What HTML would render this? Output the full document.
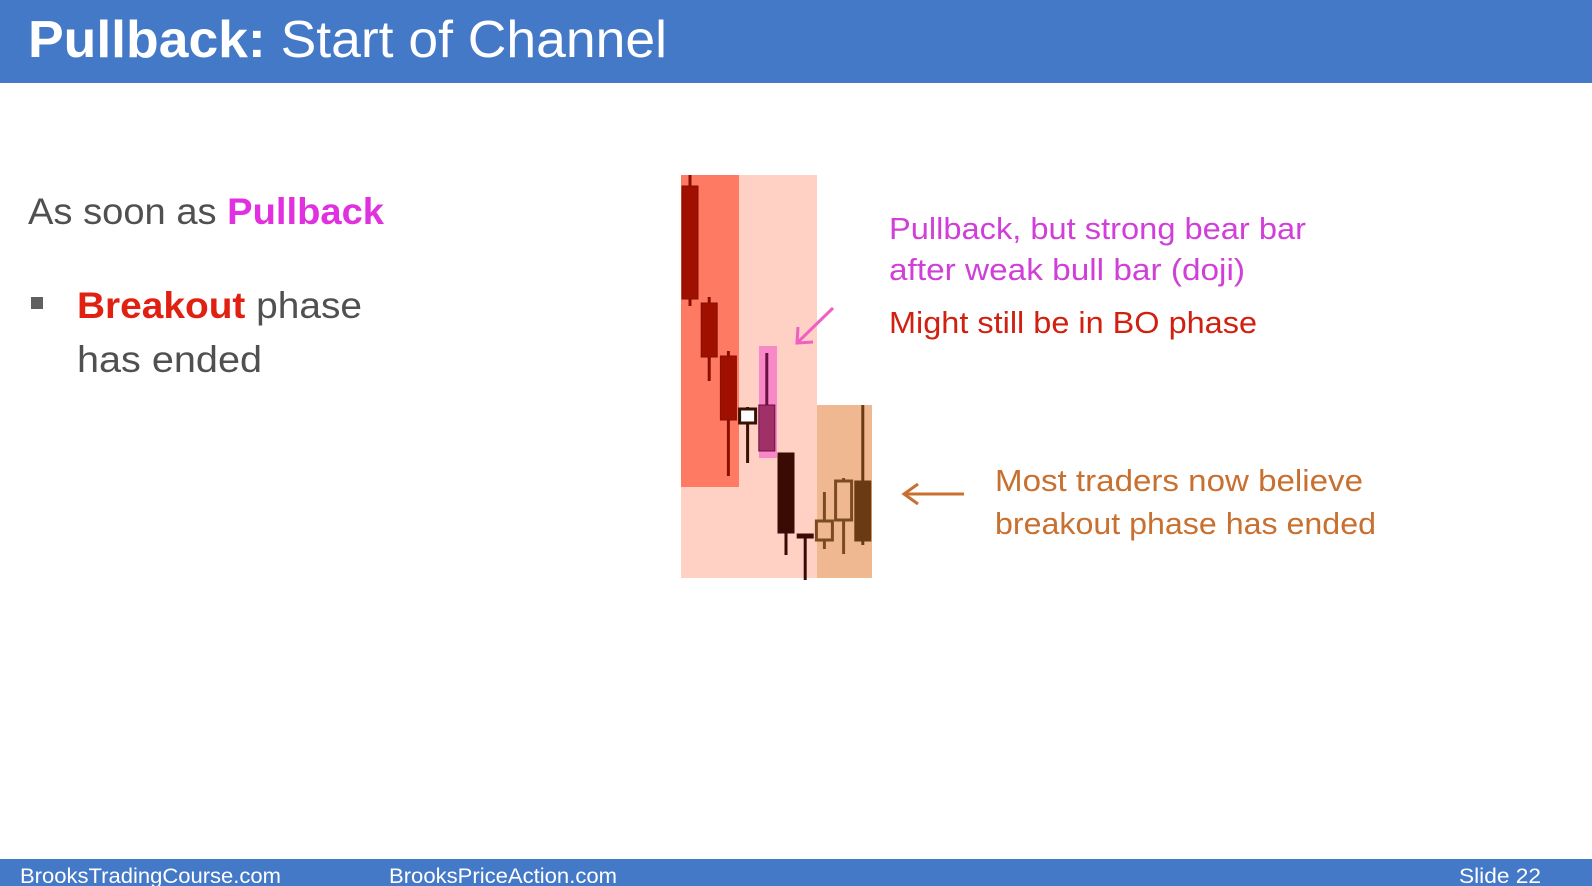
<!DOCTYPE html>
<html>
<head>
<meta charset="utf-8">
<style>
html,body{margin:0;padding:0;background:#fff;}
svg{display:block;}
</style>
</head>
<body>
<svg id="slide" width="1592" height="886" viewBox="0 0 1592 886" xmlns="http://www.w3.org/2000/svg">
  <rect x="0" y="0" width="1592" height="83" fill="#4479c8"/>
  <text x="28" y="57" font-family="Liberation Sans, sans-serif" font-size="52" fill="#fff" textLength="639" lengthAdjust="spacingAndGlyphs"><tspan font-weight="bold">Pullback:</tspan> Start of Channel</text>

  <text x="28" y="224" font-family="Liberation Sans, sans-serif" font-size="37" fill="#505050" textLength="356" lengthAdjust="spacingAndGlyphs">As soon as <tspan fill="#e030e0" font-weight="bold">Pullback</tspan></text>
  <rect x="31" y="297" width="12" height="12" fill="#606060"/>
  <text x="77" y="318" font-family="Liberation Sans, sans-serif" font-size="37" fill="#505050" textLength="285" lengthAdjust="spacingAndGlyphs"><tspan fill="#e02010" font-weight="bold">Breakout</tspan> phase</text>
  <text x="77" y="372" font-family="Liberation Sans, sans-serif" font-size="37" fill="#505050" textLength="185" lengthAdjust="spacingAndGlyphs">has ended</text>

  <g id="chart">
    <rect x="681" y="175" width="136" height="403" fill="#ffd0c4"/>
    <rect x="681" y="175" width="58" height="312" fill="#ff7a62"/>
    <rect x="817" y="405" width="55" height="173" fill="#f0b890"/>
    <rect x="759" y="346" width="18" height="112" fill="#f888c8"/>
    <g id="candles"></g>
  </g>

  <line x1="833" y1="308" x2="798" y2="342" stroke="#f060c0" stroke-width="3"/>
  <polyline points="798,327 797,343 813,342" fill="none" stroke="#f060c0" stroke-width="3"/>

  <text x="889" y="239" font-family="Liberation Sans, sans-serif" font-size="31" fill="#d040d8" textLength="417" lengthAdjust="spacingAndGlyphs">Pullback, but strong bear bar</text>
  <text x="889" y="280" font-family="Liberation Sans, sans-serif" font-size="31" fill="#d040d8" textLength="356" lengthAdjust="spacingAndGlyphs">after weak bull bar (doji)</text>
  <text x="889" y="333" font-family="Liberation Sans, sans-serif" font-size="31" fill="#d02010" textLength="368" lengthAdjust="spacingAndGlyphs">Might still be in BO phase</text>

  <line x1="964" y1="494" x2="905" y2="494" stroke="#c87030" stroke-width="3"/>
  <polyline points="918,484 904,494 918,504" fill="none" stroke="#c87030" stroke-width="3"/>
  <text x="995" y="491" font-family="Liberation Sans, sans-serif" font-size="31" fill="#c87030" textLength="368" lengthAdjust="spacingAndGlyphs">Most traders now believe</text>
  <text x="995" y="534" font-family="Liberation Sans, sans-serif" font-size="31" fill="#c87030" textLength="381" lengthAdjust="spacingAndGlyphs">breakout phase has ended</text>

  <rect x="0" y="859" width="1592" height="27" fill="#4479c8"/>
  <text x="20" y="883" font-family="Liberation Sans, sans-serif" font-size="21" fill="#fff" textLength="261" lengthAdjust="spacingAndGlyphs">BrooksTradingCourse.com</text>
  <text x="389" y="883" font-family="Liberation Sans, sans-serif" font-size="21" fill="#fff" textLength="228" lengthAdjust="spacingAndGlyphs">BrooksPriceAction.com</text>
  <text x="1459" y="883" font-family="Liberation Sans, sans-serif" font-size="21" fill="#fff" textLength="82" lengthAdjust="spacingAndGlyphs">Slide  22</text>
</svg>
<script>
const opens  = [414, 297, 244, 177, 195, 147, 66, 60, 80, 119];
const highs  = [425, 303, 249, 193, 247, 147, 66, 108, 122, 195];
const lows   = [294, 219, 124, 137, 149, 45, 20, 51, 46, 55];
const closes = [301, 243, 180, 191, 149, 67, 62, 79, 119, 59];
const fills  = ["#a01000", "#a01000", "#a01000", "#ffffff", "#a03068", "#3a0a05", "#3a0a05", "#f0b890", "#f0b890", "#6a3a15"];
const strokes= ["#8a0e00", "#8a0e00", "#8a0e00", "#3a1000", "#6a1040", "#3a0a05", "#3a0a05", "#7a4a20", "#7a4a20", "#6a3a15"];

function xScale(i){ return 690 + i * 19.2; }
function yScale(p){ return 600 - p; }

const g = document.getElementById('candles');
const NS = 'http://www.w3.org/2000/svg';
for (let i = 0; i < opens.length; i++) {
  const cx = xScale(i);
  const wick = document.createElementNS(NS, 'line');
  wick.setAttribute('x1', cx); wick.setAttribute('x2', cx);
  wick.setAttribute('y1', yScale(highs[i])); wick.setAttribute('y2', yScale(lows[i]));
  wick.setAttribute('stroke', strokes[i]); wick.setAttribute('stroke-width', 3);
  
  
  g.appendChild(wick);
  const top = yScale(Math.max(opens[i], closes[i]));
  const bot = yScale(Math.min(opens[i], closes[i]));
  const body = document.createElementNS(NS, 'rect');
  const w = 16;
  body.setAttribute('x', cx - w / 2);
  body.setAttribute('y', top);
  body.setAttribute('width', w);
  body.setAttribute('height', Math.max(bot - top, 3));
  body.setAttribute('fill', fills[i]);
  body.setAttribute('stroke', strokes[i]);
  body.setAttribute('stroke-width', closes[i] > opens[i] ? 3 : 1);
  
  
  g.appendChild(body);
}
</script>
</body>
</html>
